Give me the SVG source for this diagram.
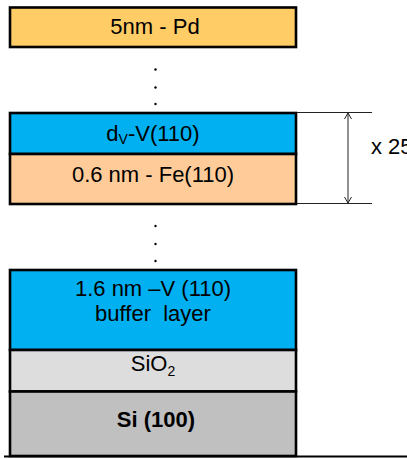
<svg xmlns="http://www.w3.org/2000/svg" width="407" height="459" viewBox="0 0 407 459">
<defs>
<style>
.box{stroke:#000;stroke-width:2.6}
.t{font-family:"Liberation Sans",Arial,sans-serif;font-size:22px;fill:#000;text-anchor:middle}
.sub{font-size:14px}
.dim{stroke:#222;stroke-width:1;fill:none}
.dot{fill:#000}
</style>
<marker id="ah" viewBox="0 0 8 8" refX="7.5" refY="4" markerWidth="8" markerHeight="8" markerUnits="userSpaceOnUse" orient="auto-start-reverse">
<polyline points="1.5,0.5 7.5,4 1.5,7.5" fill="none" stroke="#222" stroke-width="1"/>
</marker>
</defs>
<rect width="407" height="459" fill="#fff"/>
<g id="pd">
<rect class="box" x="10" y="7.5" width="286" height="39.5" fill="#FFCC66"/>
<text class="t" x="155" y="34">5nm - Pd</text>
</g>
<g id="dots1">
<circle class="dot" cx="155.5" cy="69.5" r="1.2"/>
<circle class="dot" cx="155.5" cy="87.5" r="1.2"/>
<circle class="dot" cx="155.5" cy="104" r="1.2"/>
</g>
<g id="v">
<rect class="box" x="10" y="113" width="286" height="41" fill="#00B0F0"/>
<text class="t" x="153" y="141">d<tspan class="sub" dy="3">V</tspan><tspan dy="-3">-V(110)</tspan></text>
</g>
<g id="fe">
<rect class="box" x="10" y="154" width="286" height="50" fill="#FFCC99"/>
<text class="t" x="153" y="182">0.6 nm - Fe(110)</text>
</g>
<g id="repeat">
<text class="t" x="371" y="154" style="text-anchor:start">x 25</text>
</g>
<g id="dots2">
<circle class="dot" cx="155.5" cy="226" r="1.2"/>
<circle class="dot" cx="155.5" cy="244" r="1.2"/>
<circle class="dot" cx="155.5" cy="261" r="1.2"/>
</g>
<g id="buffer">
<rect class="box" x="10" y="270" width="286" height="80" fill="#00B0F0"/>
<text class="t" x="153" y="296">1.6 nm –V (110)</text>
<text class="t" x="153" y="321">buffer&#160; layer</text>
</g>
<g id="sio2">
<rect class="box" x="10" y="350" width="286" height="41.5" fill="#DDDDDD"/>
<text class="t" x="153" y="371">SiO<tspan class="sub" dy="5">2</tspan></text>
</g>
<g id="si">
<rect class="box" x="10" y="391.5" width="286" height="64.5" fill="#C0C0C0"/>
<text class="t" x="156" y="427" font-weight="bold">Si (100)</text>
</g>
<g id="connectors">
<line class="dim" x1="297" y1="112.5" x2="372" y2="112.5"/>
<line class="dim" x1="297" y1="203.5" x2="372" y2="203.5"/>
<line class="dim" x1="348" y1="113" x2="348" y2="203" marker-start="url(#ah)" marker-end="url(#ah)"/>
<line x1="4" y1="456.5" x2="407" y2="456.5" stroke="#000" stroke-width="2.2"/>
</g>
</svg>
